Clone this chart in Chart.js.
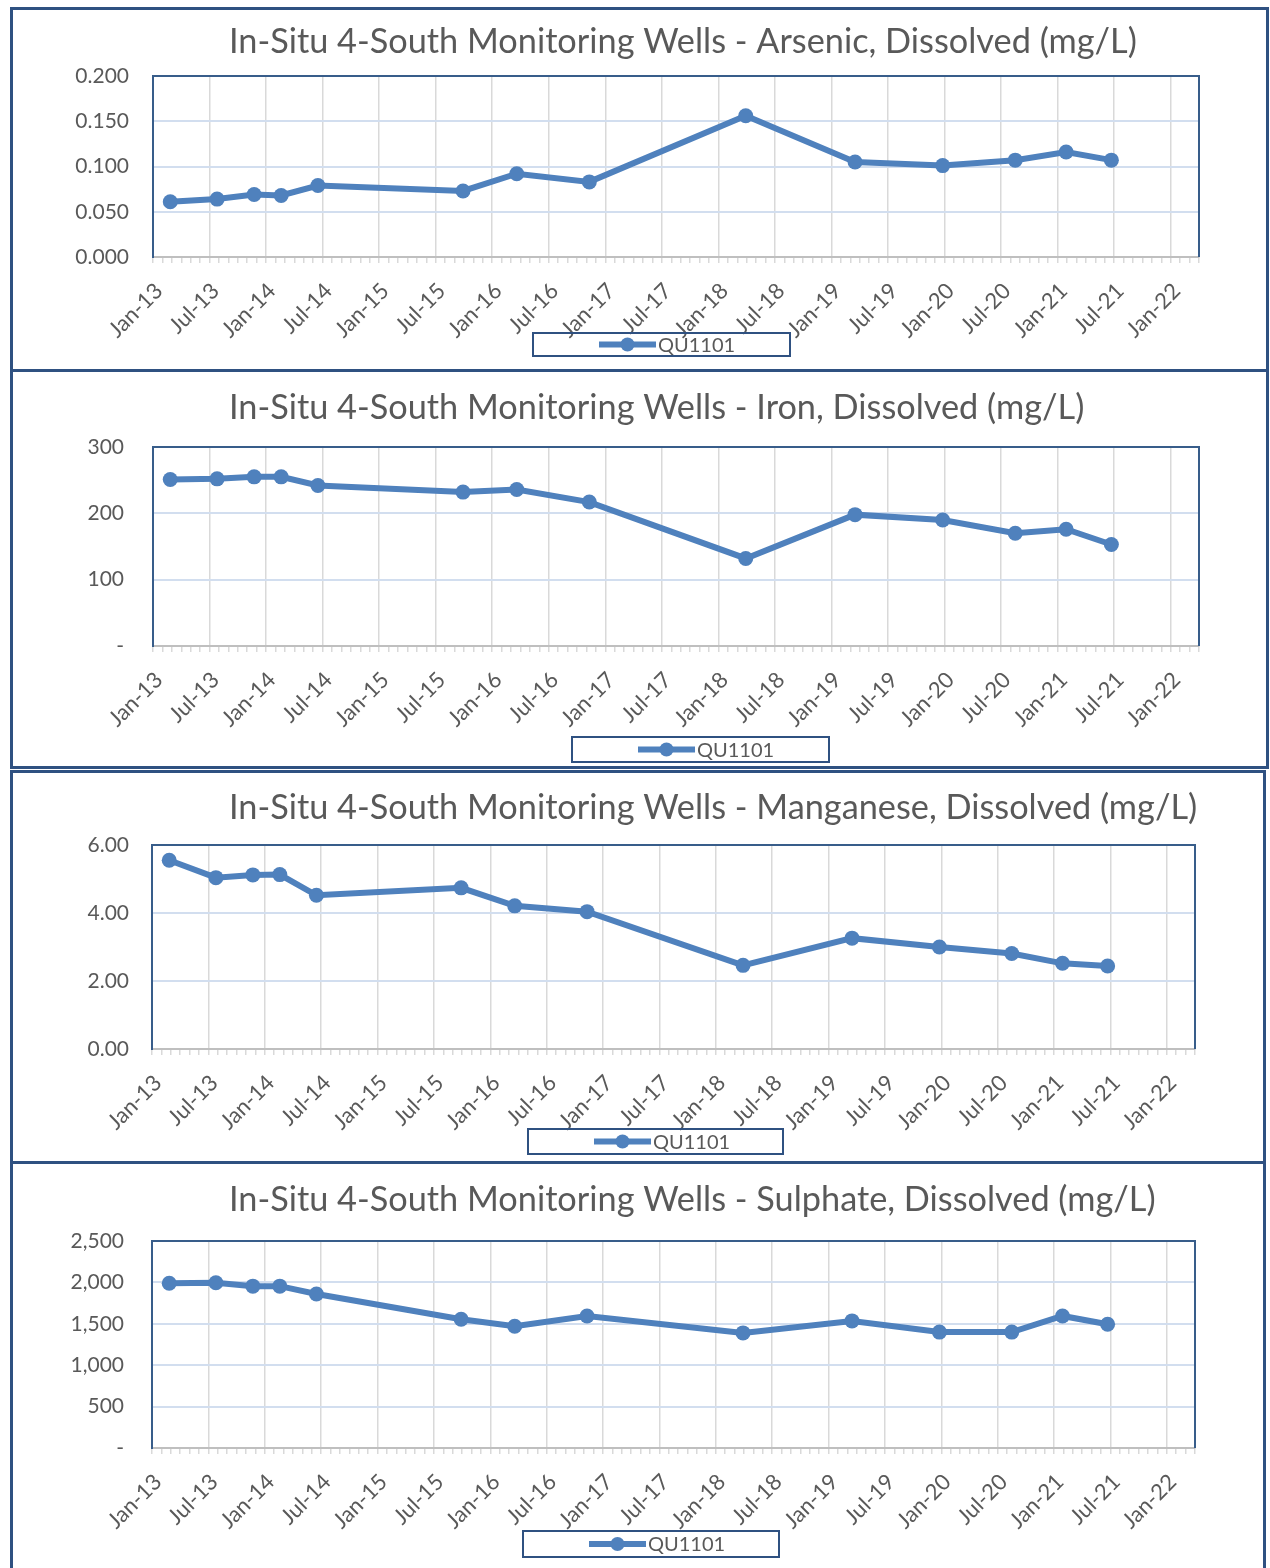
<!DOCTYPE html>
<html lang="en">
<head>
<meta charset="UTF-8">
<title>In-Situ 4-South Monitoring Wells</title>
<script src="https://cdn.jsdelivr.net/npm/chart.js"></script>
<style>
  body { margin: 0; background: #fff; width: 1270px; height: 1568px; overflow: hidden; position: relative; }
  .panel { position: absolute; border: 3px solid #2f5181; box-sizing: border-box; background: #fff; }
  .panel canvas { display: block; }
</style>
</head>
<body>
<div class="panel" style="left:10px; top:7px; width:1259px; height:365px"><canvas id="arsenic" width="1253" height="359"></canvas></div>
<div class="panel" style="left:10px; top:369px; width:1259px; height:400px"><canvas id="iron" width="1253" height="394"></canvas></div>
<div class="panel" style="left:10px; top:770px; width:1256px; height:394px"><canvas id="manganese" width="1250" height="388"></canvas></div>
<div class="panel" style="left:10px; top:1161px; width:1256px; height:414px"><canvas id="sulphate" width="1250" height="408"></canvas></div>

<script>
  // sample dates for well QU1101
  const sampleDates = ['2013-02-26', '2013-07-25', '2013-11-23', '2014-02-19', '2014-06-16',
    '2015-09-28', '2016-03-19', '2016-11-10', '2018-03-28', '2019-03-16',
    '2019-12-25', '2020-08-16', '2021-01-28', '2021-06-22'];

  const arsenic = [0.061, 0.064, 0.069, 0.068, 0.079, 0.073, 0.092, 0.083, 0.156, 0.105, 0.101, 0.107, 0.116, 0.107];
  const iron = [251, 252, 255, 255, 242, 232, 236, 217, 132, 198, 190, 170, 176, 153];
  const manganese = [5.55, 5.04, 5.12, 5.13, 4.52, 4.74, 4.21, 4.04, 2.46, 3.26, 3.00, 2.81, 2.52, 2.44];
  const sulphate = [1990, 1995, 1955, 1955, 1860, 1555, 1470, 1595, 1390, 1535, 1400, 1400, 1595, 1495];

  const xTickLabels = ['Jan-13', 'Jul-13', 'Jan-14', 'Jul-14', 'Jan-15', 'Jul-15', 'Jan-16', 'Jul-16',
    'Jan-17', 'Jul-17', 'Jan-18', 'Jul-18', 'Jan-19', 'Jul-19', 'Jan-20', 'Jul-20', 'Jan-21', 'Jul-21', 'Jan-22'];
  const seriesLabel = 'QU1101';

  const FONT = 'Lato';
  const TEXT = '#595959';
  const LINE = '#4f81bd';

  // months since Jan 2013
  function monthsFrom2013(d) {
    const [y, m, day] = d.split('-').map(Number);
    return (y - 2013) * 12 + (m - 1) + (day - 1) / 30;
  }

  const panelDecor = {
    id: 'panelDecor',
    beforeDatasetsDraw(chart) {
      const { ctx, chartArea: a } = chart;
      ctx.save();
      ctx.strokeStyle = '#385d8a';
      ctx.lineWidth = 2;
      ctx.beginPath();
      ctx.moveTo(a.left, a.top);
      ctx.lineTo(a.right, a.top);
      ctx.lineTo(a.right, a.bottom);
      ctx.stroke();
      ctx.restore();
    },
    afterDraw(chart, args, opts) {
      const ctx = chart.ctx;
      ctx.save();
      // title
      ctx.font = '34.3px ' + FONT;
      ctx.fillStyle = TEXT;
      ctx.textBaseline = 'alphabetic';
      ctx.textAlign = 'left';
      ctx.fillText(opts.title, opts.titleX, opts.titleY);

      // legend box
      const b = opts.legendBox;
      ctx.strokeStyle = '#2f5181';
      ctx.lineWidth = 2;
      ctx.strokeRect(b.x, b.y, b.w, b.h);
      const ds = chart.data.datasets[0];
      const cy = b.y + b.h / 2;
      const lx = b.x + 66;
      ctx.strokeStyle = ds.borderColor;
      ctx.lineWidth = 6;
      ctx.beginPath();
      ctx.moveTo(lx, cy);
      ctx.lineTo(lx + 57, cy);
      ctx.stroke();
      ctx.fillStyle = ds.borderColor;
      ctx.beginPath();
      ctx.arc(lx + 28.5, cy, 7, 0, Math.PI * 2);
      ctx.fill();
      ctx.font = '20px ' + FONT;
      ctx.fillStyle = TEXT;
      ctx.textBaseline = 'middle';
      ctx.fillText(ds.label, lx + 59, cy + 1);
      ctx.restore();
    }
  };

  function makeChart(id, values, title, yScale, box) {
    const canvas = document.getElementById(id);
    const W = canvas.width, H = canvas.height;
    return new Chart(canvas, {
      type: 'line',
      data: {
        datasets: [{
          label: seriesLabel,
          data: sampleDates.map((d, i) => ({ x: monthsFrom2013(d), y: values[i] })),
          borderColor: LINE,
          backgroundColor: LINE,
          borderWidth: 6,
          pointRadius: 7.5,
          pointHoverRadius: 7.5,
          pointBorderWidth: 0,
          tension: 0
        }]
      },
      options: {
        responsive: false,
        animation: false,
        devicePixelRatio: 1,
        layout: { padding: { top: box.top, right: W - box.right, bottom: 0, left: 0 } },
        plugins: {
          legend: { display: false },
          title: { display: false },
          tooltip: { enabled: false },
          panelDecor: { title: title, titleX: 216, titleY: box.titleY, legendBox: box.legend }
        },
        scales: {
          x: {
            type: 'linear',
            min: 0,
            max: 111,
            afterBuildTicks: s => {
              const t = [];
              for (let v = 0; v <= 111; v++) t.push({ value: v });
              s.ticks = t;
            },
            afterFit: s => { s.height = H - box.bottom; },
            ticks: {
              autoSkip: false,
              minRotation: 45,
              maxRotation: 45,
              padding: 15,
              labelOffset: 6,
              color: TEXT,
              font: { family: FONT, size: 22 },
              callback: v => (v % 6 === 0 ? xTickLabels[v / 6] : '')
            },
            grid: {
              color: c => (c.tick && c.tick.value % 6 === 0 && c.tick.value > 0 ? '#d9d9d9' : 'rgba(0,0,0,0)'),
              lineWidth: 1.5,
              tickColor: '#d9d9d9',
              tickLength: 6,
              tickWidth: 1.5
            },
            border: { color: '#bfbfbf', width: 2 }
          },
          y: {
            min: 0,
            max: yScale.max,
            afterFit: s => { s.width = box.left; },
            ticks: {
              stepSize: yScale.step,
              padding: box.yPad,
              color: TEXT,
              font: { family: FONT, size: 21 },
              callback: yScale.fmt
            },
            grid: { color: '#d2deef', lineWidth: 2, drawTicks: false },
            border: { color: '#385d8a', width: 2 }
          }
        }
      },
      plugins: [panelDecor]
    });
  }

  const dash = v => (v === 0 ? '-' : v.toLocaleString('en-US'));

  makeChart('arsenic', arsenic, 'In-Situ 4-South Monitoring Wells - Arsenic, Dissolved (mg/L)',
    { max: 0.2, step: 0.05, fmt: v => v.toFixed(3) },
    { left: 140, right: 1186, top: 66, bottom: 247, yPad: 24, titleY: 43, legend: { x: 520, y: 323, w: 257, h: 23 } });

  makeChart('iron', iron, 'In-Situ 4-South Monitoring Wells - Iron, Dissolved (mg/L)',
    { max: 300, step: 100, fmt: dash },
    { left: 140, right: 1186, top: 75, bottom: 274, yPad: 29, titleY: 47, legend: { x: 559, y: 365, w: 257, h: 25 } });

  makeChart('manganese', manganese, 'In-Situ 4-South Monitoring Wells - Manganese, Dissolved (mg/L)',
    { max: 6, step: 2, fmt: v => v.toFixed(2) },
    { left: 139, right: 1182, top: 72, bottom: 276, yPad: 23, titleY: 46, legend: { x: 515, y: 356, w: 255, h: 25 } });

  makeChart('sulphate', sulphate, 'In-Situ 4-South Monitoring Wells - Sulphate, Dissolved (mg/L)',
    { max: 2500, step: 500, fmt: dash },
    { left: 139, right: 1182, top: 77, bottom: 284, yPad: 28, titleY: 47, legend: { x: 510, y: 367, w: 256, h: 26 } });
</script>
</body>
</html>
